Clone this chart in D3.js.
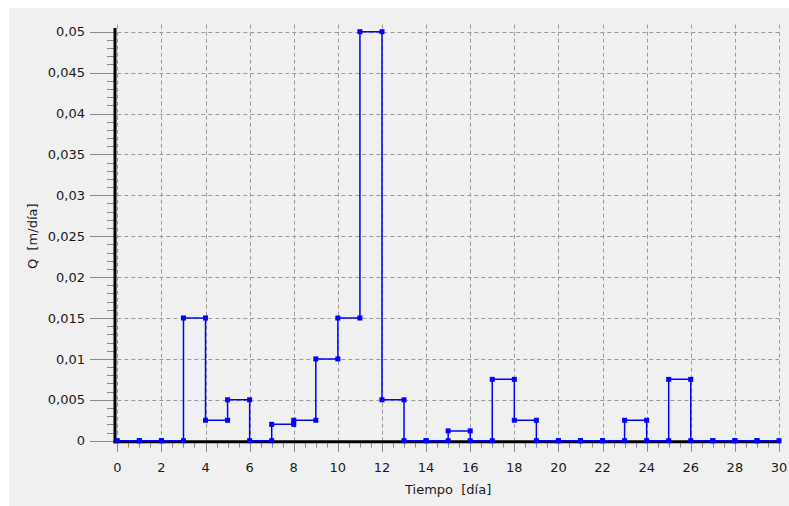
<!DOCTYPE html>
<html>
<head>
<meta charset="utf-8">
<script src="https://cdn.jsdelivr.net/npm/d3@7"></script>
<style>
  html, body { margin: 0; padding: 0; background: #ffffff; }
  svg { display: block; }
  text { font-family: "DejaVu Sans", sans-serif; fill: #1a1a1a; white-space: pre; }
</style>
</head>
<body>
<svg id="chart" width="789" height="506"></svg>
<script>
// Daily discharge values (day i holds from i to i+1)
const days = d3.range(0, 30);
const qValues = [0, 0, 0, 0.015, 0.0025, 0.005, 0, 0.002, 0.0025, 0.01,
                 0.015, 0.05, 0.005, 0, 0, 0.0012, 0, 0.0075, 0.0025, 0,
                 0, 0, 0, 0.0025, 0, 0.0075, 0, 0, 0, 0];
const xTicks = d3.range(0, 31, 2);
const yTicks = [0, 0.005, 0.01, 0.015, 0.02, 0.025, 0.03, 0.035, 0.04, 0.045, 0.05];
const xTitle = "Tiempo  [día]";
const yTitle = "Q  [m/día]";

// Step points: (i, v) and (i+1, v)
const pts = [];
days.forEach((d, i) => { pts.push([d, qValues[i]]); pts.push([d + 1, qValues[i]]); });

const svg = d3.select("#chart");
const x = d3.scaleLinear().domain([0, 30]).range([117.3, 779]);
const y = d3.scaleLinear().domain([0, 0.05]).range([440.7, 31.7]);
const fmt = v => String(+v.toFixed(4)).replace(".", ",");

svg.append("rect").attr("x", 9).attr("y", 8).attr("width", 780).attr("height", 498).attr("fill", "#f0f0f0");

// Grid
const grid = svg.append("g").attr("stroke", "#9a9a9a").attr("stroke-width", 1).attr("stroke-dasharray", "4,3").attr("fill", "none");
xTicks.forEach(t => {
  grid.append("line").attr("x1", Math.round(x(t)) + 0.5).attr("x2", Math.round(x(t)) + 0.5)
    .attr("y1", y(0.05) - 7).attr("y2", y(0));
});
yTicks.forEach(t => {
  grid.append("line").attr("x1", x(0)).attr("x2", x(30))
    .attr("y1", Math.round(y(t)) + 0.5).attr("y2", Math.round(y(t)) + 0.5);
});

// Y axis ticks (majors long to the left, minors short)
const yAxisX = x(0) - 2.3;
const yMinor = d3.range(0, 51).map(k => k * 0.001);
const ta = svg.append("g").attr("stroke", "#8a8a8a").attr("stroke-width", 1);
yMinor.forEach(t => {
  const major = Math.round(t * 1000) % 5 === 0;
  ta.append("line").attr("x1", major ? 90 : 107).attr("x2", yAxisX)
    .attr("y1", Math.round(y(t)) + 0.5).attr("y2", Math.round(y(t)) + 0.5);
});
// X axis ticks
const xAxisY = y(0) + 1;
d3.range(0, 30.01, 0.5).forEach(t => {
  const major = Math.abs(t / 2 - Math.round(t / 2)) < 1e-6;
  ta.append("line").attr("x1", Math.round(x(t)) + 0.5).attr("x2", Math.round(x(t)) + 0.5)
    .attr("y1", xAxisY).attr("y2", xAxisY + (major ? 10 : 6));
});

// Axis tick labels
svg.append("g").selectAll("text").data(yTicks).join("text")
  .attr("x", 85).attr("y", d => y(d)).attr("dy", "0.36em")
  .attr("text-anchor", "end").attr("font-size", 13).text(fmt);
svg.append("g").selectAll("text").data(xTicks).join("text")
  .attr("x", d => x(d)).attr("y", 472)
  .attr("text-anchor", "middle").attr("font-size", 13).text(d => d);

// Axis titles
svg.append("text").attr("x", (x(0) + x(30)) / 2).attr("y", 494).attr("text-anchor", "middle")
  .attr("font-size", 13).text(xTitle);
svg.append("text").attr("transform", `translate(37,${(y(0) + y(0.05)) / 2}) rotate(-90)`)
  .attr("text-anchor", "middle").attr("font-size", 13).text(yTitle);

// Black axis lines
svg.append("line").attr("x1", yAxisX).attr("x2", yAxisX).attr("y1", 28).attr("y2", xAxisY + 1.5)
  .attr("stroke", "#000").attr("stroke-width", 3);
svg.append("line").attr("x1", yAxisX - 1.5).attr("x2", x(30) + 2).attr("y1", xAxisY).attr("y2", xAxisY)
  .attr("stroke", "#000").attr("stroke-width", 3);

// Series
const line = d3.line().x(d => x(d[0])).y(d => y(d[1]));
svg.append("path").datum(pts).attr("d", line).attr("fill", "none")
  .attr("stroke", "#0000ff").attr("stroke-width", 1.5);
svg.append("g").selectAll("rect").data(pts).join("rect")
  .attr("x", d => x(d[0]) - 2.5).attr("y", d => y(d[1]) - 2.5)
  .attr("width", 5).attr("height", 5).attr("fill", "#0000ff");
</script>
</body>
</html>
